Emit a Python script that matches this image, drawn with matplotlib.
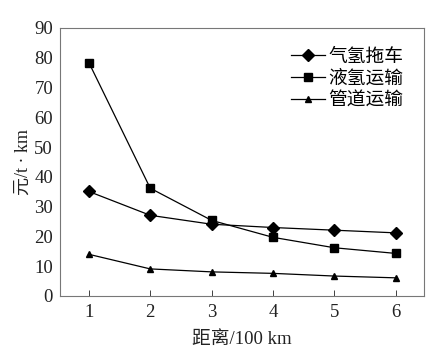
import numpy as np
import matplotlib.pyplot as plt

plt.rcParams['font.family'] = ['Liberation Serif', 'Noto Sans CJK SC']

# 距离 (100 km)
distance = [1, 2, 3, 4, 5, 6]
# 成本 元/t·km
gas_trailer = [35.1, 27.1, 24.1, 23.0, 22.1, 21.2]
liquid_h2 = [78.4, 36.2, 25.4, 19.7, 16.2, 14.3]
pipeline = [14.0, 9.1, 8.1, 7.6, 6.7, 6.1]

labels = ["气氢拖车", "液氢运输", "管道运输"]
x_ticks = [1, 2, 3, 4, 5, 6]
y_ticks = [0, 10, 20, 30, 40, 50, 60, 70, 80, 90]

fig = plt.figure(figsize=(4.30, 3.53), dpi=100)
ax = fig.add_axes([60 / 430, 1 - 296 / 353, 364 / 430, 268 / 353])

ax.plot(distance, gas_trailer, color="black", lw=0.9, marker="D", ms=6, label=labels[0])
ax.plot(distance, liquid_h2, color="black", lw=0.9, marker="s", ms=5.5, label=labels[1])
ax.plot(distance, pipeline, color="black", lw=0.9, marker="^", ms=5, label=labels[2])

ax.set_xlim(0.53, 6.46)
ax.set_ylim(0, 90)
ax.set_xticks(x_ticks)
ax.set_yticks(y_ticks)
ax.tick_params(direction="in", labelsize=13.5, colors="#222222", length=4, width=0.6)
ax.tick_params(axis="x", pad=6)
ax.tick_params(axis="y", length=0, pad=5)
for s in ax.spines.values():
    s.set_color("#777777")
    s.set_linewidth(0.8)

ax.set_xlabel("距离/100 km", fontsize=13.5, color="#222222", labelpad=7)
ax.set_ylabel("元/t · km", fontsize=13, color="#222222", labelpad=2)

ax.legend(loc="upper right", frameon=False, fontsize=13.5, handlelength=1.8,
          handletextpad=0.2, labelspacing=0.25, borderaxespad=0.7)

fig.savefig("out.png", dpi=100)
